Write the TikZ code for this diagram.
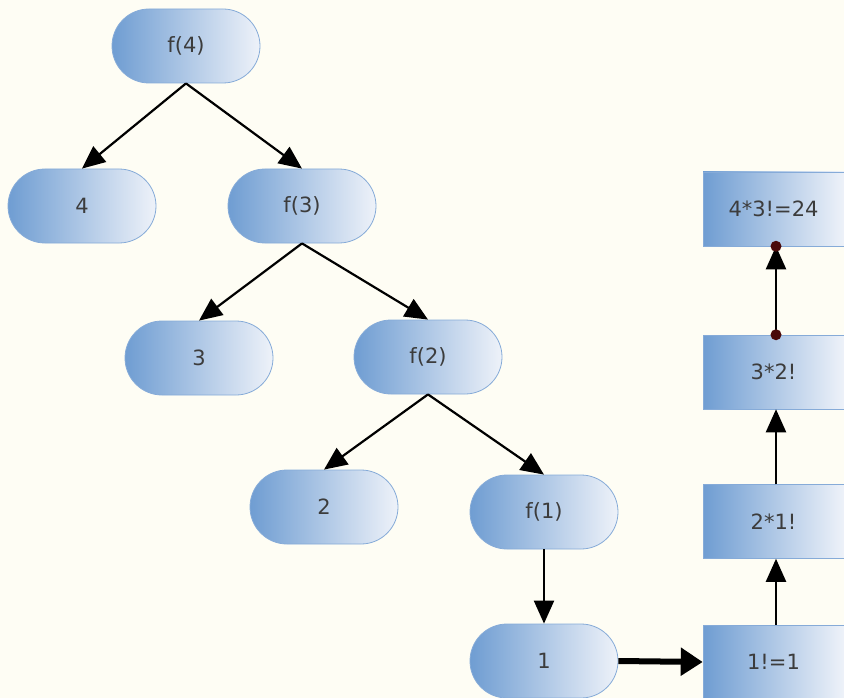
\documentclass[tikz,border=0pt]{standalone}
\usepackage{fontspec}
\setmainfont{DejaVu Sans}
\usetikzlibrary{shapes.misc,arrows.meta}
\definecolor{bg}{HTML}{FEFDF4}
\definecolor{gl}{HTML}{6F9DD2}
\definecolor{gr}{HTML}{EEF2F9}
\definecolor{bord}{HTML}{86ABD8}
\definecolor{txt}{HTML}{3C3C3C}
\definecolor{dotc}{HTML}{4A0A0A}
\tikzset{
  pill/.style={rounded rectangle, minimum width=148pt, minimum height=74pt,
    left color=gl, right color=gr, draw=bord, line width=0.8pt,
    text=txt, font=\fontsize{21}{24}\selectfont, inner sep=0pt},
  resbox/.style={rectangle, minimum width=141pt, minimum height=74pt,
    left color=gl, right color=gr, draw=bord, line width=0.5pt,
    text=txt, font=\fontsize{21}{24}\selectfont, inner sep=0pt},
  edge/.style={line width=2.2pt, -{Triangle[length=23pt,width=20pt]}},
  thickedge/.style={line width=6pt, -{Triangle[length=22pt,width=27pt]}},
  enddot/.style={circle, fill=dotc, minimum size=11pt, inner sep=0pt}
}
\begin{document}
\begin{tikzpicture}[x=1pt,y=-1pt]
\fill[bg] (0,0) rectangle (844,698);
\useasboundingbox (0,0) rectangle (844,698);
% tree
\node[pill] (f4) at (186,46) {f(4)};
\node[pill] (n4) at (82,206) {4};
\node[pill] (f3) at (302,206) {f(3)};
\node[pill] (n3) at (199,358) {3};
\node[pill] (f2) at (428,357) {f(2)};
\node[pill] (n2) at (324,507) {2};
\node[pill] (f1) at (544,512) {f(1)};
\node[pill] (n1) at (544,661) {1};
% results
\node[resbox] (r4) at (773.5,209) {4*3!=24};
\node[resbox] (r3) at (773.5,372) {3*2!};
\node[resbox] (r2) at (773.5,521.5) {2*1!};
\node[resbox] (r1) at (773.5,662) {1!=1};
% edges
\draw[edge] (f4.south) -- (n4.north);
\draw[edge] (f4.south) -- (f3.north);
\draw[edge] (f3.south) -- (n3.north);
\draw[edge] (f3.south) -- (f2.north);
\draw[edge] (f2.south) -- (n2.north);
\draw[edge] (f2.south) -- (f1.north);
\draw[edge] (f1.south) -- (n1.north);
\draw[thickedge] (n1.east) -- (r1.west);
\coordinate (a1) at ([xshift=2.5pt]r1.north);
\coordinate (b2) at ([xshift=2.5pt]r2.south);
\coordinate (a2) at ([xshift=2.5pt]r2.north);
\coordinate (b3) at ([xshift=2.5pt]r3.south);
\coordinate (a3) at ([xshift=2.5pt]r3.north);
\coordinate (b4) at ([xshift=2.5pt]r4.south);
\draw[edge] (a1) -- (b2);
\draw[edge] (a2) -- (b3);
\draw[edge] (a3) -- (b4);
\node[enddot] (d1) at (a3) {};
\node[enddot] (d2) at (b4) {};
\end{tikzpicture}
\end{document}
